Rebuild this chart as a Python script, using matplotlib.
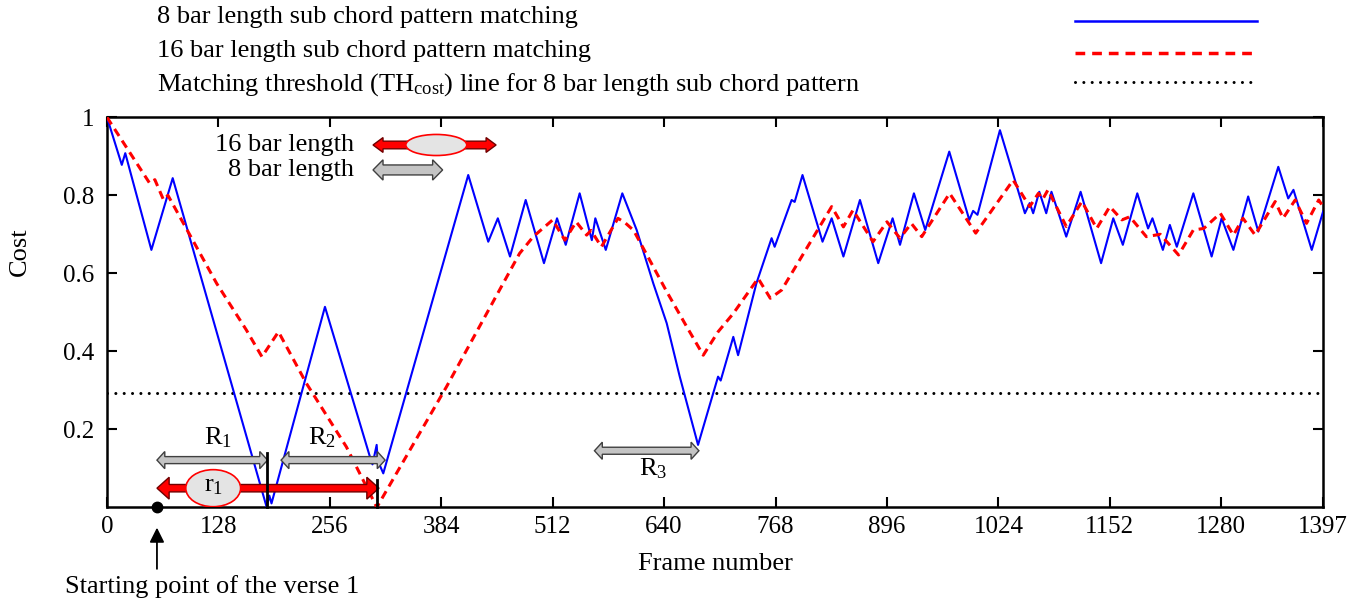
import matplotlib
matplotlib.use("Agg")
import matplotlib.pyplot as plt
from matplotlib.lines import Line2D
from matplotlib.patches import Polygon, Ellipse
import numpy as np

plt.rcParams['font.family'] = ['Liberation Serif', 'DejaVu Serif']
plt.rcParams['mathtext.fontset'] = 'custom'
plt.rcParams['mathtext.rm'] = 'Liberation Serif'
plt.rcParams['mathtext.it'] = 'Liberation Serif:italic'
plt.rcParams['lines.scale_dashes'] = False

#%% data
frames_8 = [0, 17, 21, 51, 75.5, 183.5, 186.5, 189, 250.4, 302, 305, 309.8, 311, 317.4,
            415, 438, 449, 463, 481, 502, 517, 527, 543, 557, 561, 573, 592, 608.5,
            627.6, 643, 658, 679, 702, 705, 719.5, 725, 746, 763.5, 767, 786.5, 790,
            799, 822, 832.5, 846, 865, 886, 902.5, 911, 927, 940, 967.6, 990.6, 995,
            1000, 1025.8, 1054.5, 1060, 1064, 1071, 1079, 1085, 1102, 1118.5, 1142,
            1156, 1167, 1183.6, 1196, 1201, 1213, 1221, 1229, 1248, 1269, 1280.5,
            1294, 1311, 1322.6, 1345.6, 1357, 1363, 1384, 1397]
cost_8 = [1.0, 0.878, 0.908, 0.66, 0.844, 0.0, 0.03, 0.01, 0.514, 0.13, 0.11, 0.16, 0.12, 0.087,
          0.852, 0.681, 0.741, 0.643, 0.788, 0.626, 0.741, 0.673, 0.805, 0.685, 0.741, 0.66, 0.805, 0.711,
          0.574, 0.472, 0.335, 0.16, 0.335, 0.325, 0.437, 0.39, 0.574, 0.69, 0.668, 0.788, 0.783,
          0.852, 0.681, 0.741, 0.643, 0.788, 0.626, 0.741, 0.673, 0.805, 0.711, 0.912, 0.737, 0.76,
          0.75, 0.967, 0.754, 0.78, 0.754, 0.809, 0.754, 0.809, 0.694, 0.809, 0.626,
          0.741, 0.673, 0.805, 0.715, 0.741, 0.66, 0.724, 0.668, 0.805, 0.643, 0.741,
          0.66, 0.797, 0.707, 0.873, 0.792, 0.814, 0.66, 0.758]

frames_16 = [0, 49, 55, 65, 70, 126, 160, 178, 197, 229, 275, 310, 390, 474, 489.7, 512,
             526, 539, 551, 556, 568, 587, 595, 605, 643, 666, 685, 702, 719.5, 748, 762,
             775, 832.5, 846, 857, 880, 896, 911, 924, 936, 968, 998, 1041, 1060, 1070,
             1075, 1081, 1102, 1120, 1137, 1152, 1166, 1175, 1194, 1210, 1231, 1248, 1260,
             1279, 1294, 1305, 1319, 1342, 1351, 1365, 1378, 1392, 1397]
cost_16 = [1.0, 0.831, 0.84, 0.788, 0.8, 0.574, 0.455, 0.386, 0.45, 0.318, 0.155, 0.0, 0.309, 0.651, 0.694, 0.737,
           0.685, 0.732, 0.698, 0.71, 0.668, 0.741, 0.73, 0.71, 0.553, 0.463, 0.39, 0.45, 0.497, 0.587, 0.536,
           0.557, 0.771, 0.719, 0.762, 0.681, 0.732, 0.69, 0.728, 0.694, 0.805, 0.703, 0.839, 0.771, 0.805,
           0.79, 0.814, 0.72, 0.784, 0.715, 0.771, 0.737, 0.745, 0.694, 0.70, 0.647, 0.711, 0.715,
           0.754, 0.698, 0.741, 0.698, 0.784, 0.741, 0.788, 0.728, 0.788, 0.771]

th_cost = 0.292
verse_start = 57.4
x_ticks = [0, 128, 256, 384, 512, 640, 768, 896, 1024, 1152, 1280, 1397]
y_ticks = [0.2, 0.4, 0.6, 0.8, 1.0]
y_ticklabels = ['0.2', '0.4', '0.6', '0.8', '1']
legend_labels = ['8 bar length sub chord pattern matching',
                 '16 bar length sub chord pattern matching',
                 r'Matching threshold (TH$_{\mathrm{cost}}$) line for 8 bar length sub chord pattern']
# (start, end, y) of the bracket arrows
R1 = (57.4, 184.5, 0.121)
R2 = (200, 319.5, 0.121)
R3 = (560, 680, 0.145)
r1 = (57.4, 312.5, 0.049)
key16 = (305.6, 447, 0.929)
key8 = (305.6, 385.6, 0.865)


def double_arrow(ax, x0, x1, y, face, edge, body, head, hlen, lw=1.0, z=5):
    pts = [(x0, y), (x0 + hlen, y + head), (x0 + hlen, y + body), (x1 - hlen, y + body),
           (x1 - hlen, y + head), (x1, y), (x1 - hlen, y - head), (x1 - hlen, y - body),
           (x0 + hlen, y - body), (x0 + hlen, y - head)]
    ax.add_patch(Polygon(pts, closed=True, facecolor=face, edgecolor=edge, lw=lw,
                         zorder=z, clip_on=False))


#%% figure
fig = plt.figure(figsize=(13.56, 6.04), dpi=100)
ax = fig.add_axes([0.0789, 0.1601, 0.8968, 0.6457])

ax.plot(frames_8, cost_8, color='#0000ff', lw=1.5, zorder=3)
ax.plot(frames_16, cost_16, color='#ff0000', lw=2.2, dashes=(6, 4), zorder=3)
ax.axhline(th_cost, color='black', lw=2.2, dashes=(0.01, 6), dash_capstyle='round', zorder=2)

ax.set_xlim(0, 1397)
ax.set_ylim(0, 1)
ax.set_xticks(x_ticks)
ax.set_yticks(y_ticks)
ax.set_yticklabels(y_ticklabels)
ax.tick_params(direction='in', length=7, width=1.5, labelsize=18, top=True, right=True)
ax.tick_params(axis='x', pad=6)
ax.tick_params(axis='y', pad=9)
for s in ax.spines.values():
    s.set_linewidth(1.8)

ax.set_xlabel('Frame number', fontsize=19)
ax.xaxis.set_label_coords(0.5, -0.117)
ax.text(-0.0716, 0.655, 'Cost', rotation=90, ha='center', va='center', fontsize=19,
        transform=ax.transAxes)

# bracket arrows and their labels
gray_face, gray_edge = '#c4c4c4', '#404040'
double_arrow(ax, R1[0], R1[1], R1[2], gray_face, gray_edge, 0.009, 0.022, 9)
double_arrow(ax, R2[0], R2[1], R2[2], gray_face, gray_edge, 0.009, 0.022, 9)
double_arrow(ax, R3[0], R3[1], R3[2], gray_face, gray_edge, 0.009, 0.022, 9)
double_arrow(ax, r1[0], r1[1], r1[2], '#ff0000', '#700000', 0.0095, 0.028, 14)
ax.add_patch(Ellipse((122, r1[2]), 63, 0.095, facecolor='#e4e4e4', edgecolor='#ff0000',
                     lw=1.2, zorder=6))
ax.plot([184, 184], [0, 0.14], color='black', lw=2, zorder=7, clip_on=False)
ax.plot([310.5, 310.5], [0, 0.07], color='black', lw=2, zorder=7, clip_on=False)

ax.text(127.5, 0.178, r'R$_{\mathrm{1}}$', ha='center', va='center', fontsize=19, zorder=8)
ax.text(247, 0.178, r'R$_{\mathrm{2}}$', ha='center', va='center', fontsize=19, zorder=8)
ax.text(627, 0.10, r'R$_{\mathrm{3}}$', ha='center', va='center', fontsize=19, zorder=8)
ax.text(122, r1[2] + 0.005, r'r$_{\mathrm{1}}$', ha='center', va='center', fontsize=19, zorder=8)

# key in the upper left
double_arrow(ax, key16[0], key16[1], key16[2], '#ff0000', '#700000', 0.0098, 0.019, 11.5)
ax.add_patch(Ellipse(((key16[0] + key16[1]) / 2 + 2, key16[2]), 70, 0.054,
                     facecolor='#e4e4e4', edgecolor='#ff0000', lw=1.2, zorder=6))
double_arrow(ax, key8[0], key8[1], key8[2], gray_face, gray_edge, 0.0128, 0.026, 11.5)
ax.text(284, key16[2], '16 bar length', ha='right', va='center', fontsize=19)
ax.text(284, key8[2], '8 bar length', ha='right', va='center', fontsize=19)

# starting point of verse 1
ax.plot([verse_start], [0], 'o', color='black', ms=7.5, clip_on=False, zorder=9)
ax.annotate('', xy=(verse_start, -0.045), xytext=(verse_start, -0.165),
            arrowprops=dict(arrowstyle='-|>', color='black', lw=1.3, mutation_scale=22),
            annotation_clip=False)
ax.text(120.6, -0.204, 'Starting point of the verse 1', ha='center', va='center',
        fontsize=19, clip_on=False)

# legend drawn above the axes
leg_y = [1 - 17 / 604, 1 - 51 / 604, 1 - 85 / 604]
line_y = [1 - 20.7 / 604, 1 - 52.7 / 604, 1 - 81.7 / 604]
x0, x1 = 1075 / 1356, 1257 / 1356
for lab, ty in zip(legend_labels, leg_y):
    fig.text(157 / 1356, ty, lab, ha='left', va='center', fontsize=19)
fig.lines.append(Line2D([x0, x1], [line_y[0]] * 2, color='#0000ff', lw=1.8,
                        transform=fig.transFigure))
fig.lines.append(Line2D([x0, x1], [line_y[1]] * 2, color='#ff0000', lw=2.5, dashes=(7, 5),
                        transform=fig.transFigure))
fig.lines.append(Line2D([x0, x1], [line_y[2]] * 2, color='black', lw=2.2, dashes=(0.01, 6),
                        dash_capstyle='round', transform=fig.transFigure))

fig.savefig('out.png', dpi=100)
